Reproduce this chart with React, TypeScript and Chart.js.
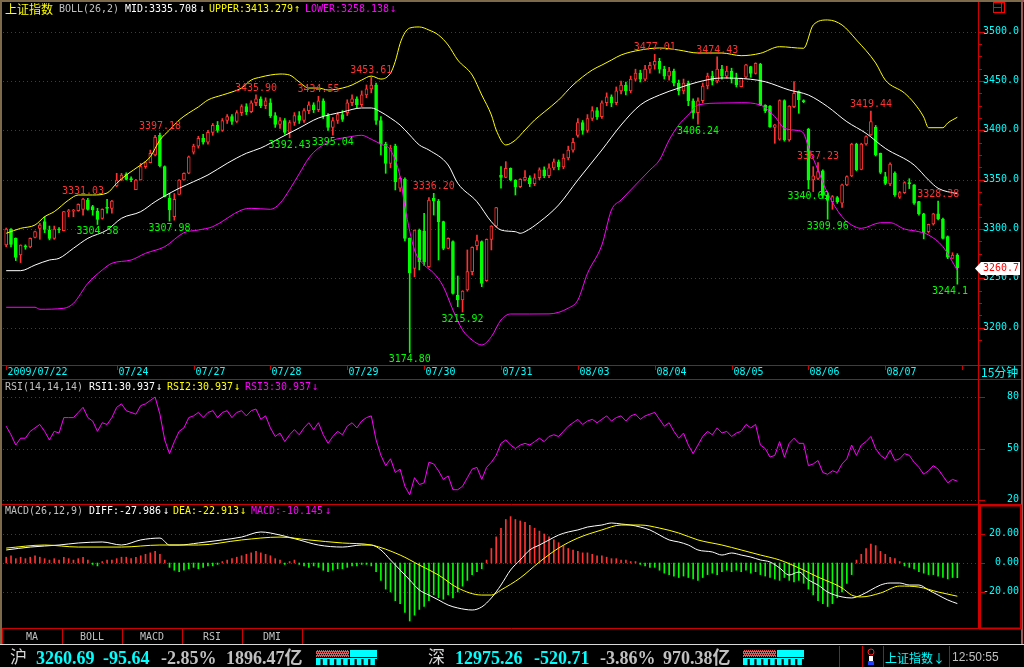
import React, { useEffect, useRef } from 'react';
import { Chart, registerables } from 'chart.js';

Chart.register(...registerables);

// ---------------- data ----------------
const dayLabels = ['2009/07/22', '07/24', '07/27', '07/28', '07/29', '07/30', '07/31', '08/03', '08/04', '08/05', '08/06', '08/07'];
const dayStarts = [0, 23, 39, 55, 71, 87, 103, 119, 135, 151, 167, 183];
const dayEnd = 199;

const opens = [
  3283.8, 3300, 3290.6, 3273.7, 3282.5, 3282, 3291.6, 3300.7, 3307.5, 3299,
  3290.6, 3300, 3298.4, 3317.6, 3318, 3318.6, 3320, 3329.4, 3322.7, 3318.3,
  3310.8, 3322, 3321, 3343.6, 3349.7, 3355.8, 3351, 3340, 3349.7, 3363.2,
  3367.3, 3375, 3395, 3363.2, 3331.1, 3312.5, 3335.2, 3349.7, 3356.5, 3378,
  3384, 3392, 3388, 3398, 3405, 3400, 3410, 3414, 3409, 3418,
  3424, 3419, 3428, 3432, 3425, 3428, 3415, 3406, 3410, 3398,
  3408, 3415, 3410, 3420, 3426, 3421, 3430, 3415, 3403, 3410,
  3416, 3418, 3428, 3432, 3426, 3436, 3442, 3446, 3410, 3386,
  3366.6, 3384, 3341.3, 3350.4, 3290.6, 3260.2, 3299, 3298, 3261.9, 3331,
  3328.4, 3307.5, 3280.4, 3287.2, 3233.1, 3228.1, 3238.2, 3256.8, 3283.1, 3287.2,
  3247.7, 3289.6, 3303, 3354.8, 3352.4, 3361.5, 3349.7, 3343, 3349.7, 3352,
  3346, 3352, 3360, 3354, 3362, 3368, 3363, 3372, 3380, 3395,
  3408, 3400, 3412, 3420, 3414, 3428, 3434, 3428, 3440, 3446,
  3440, 3452, 3458, 3452, 3462, 3466, 3470, 3462, 3455, 3460,
  3448, 3440, 3448, 3430, 3418, 3430, 3445, 3455, 3450, 3462,
  3455, 3460, 3452, 3444.3, 3453.8, 3464.6, 3457.8, 3467.3, 3425.7, 3424.7,
  3403.1, 3391, 3430.1, 3390.3, 3424, 3439.2, 3430.1, 3401.1, 3349.7, 3351.4,
  3358.9, 3334, 3327.8, 3331.8, 3326.1, 3344.7, 3353.8, 3386.2, 3360.5, 3386.2,
  3395.3, 3403.1, 3376.7, 3353.1, 3345.7, 3356.5, 3332.2, 3336.9, 3347, 3344.7,
  3327.8, 3315.3, 3297.4, 3305.1, 3315.3, 3310.2, 3292.3, 3270.3, 3273.7,
];
const highs = [
  3301, 3300.5, 3291, 3284, 3284, 3291, 3298, 3305.8, 3312.5, 3303,
  3303, 3301.5, 3318, 3320, 3320, 3325.5, 3331.03, 3331, 3324, 3321,
  3320.5, 3330, 3329, 3356.5, 3356.5, 3357, 3353, 3350.4, 3366.6, 3368.3,
  3380, 3395, 3397.18, 3364, 3336.2, 3336, 3350, 3357, 3374, 3386,
  3394, 3396, 3400, 3407, 3409, 3412, 3416, 3416, 3420, 3426,
  3427, 3430, 3435.9, 3434, 3433, 3432, 3418, 3413, 3412, 3410,
  3418, 3419, 3422, 3429, 3428, 3434.55, 3432, 3417, 3413, 3418,
  3420, 3431, 3436, 3434, 3440, 3446, 3453.61, 3448, 3414, 3388,
  3385, 3386, 3353, 3352, 3291, 3299, 3300, 3316, 3332, 3336.2,
  3330, 3308, 3291, 3288, 3252.4, 3237.5, 3278.8, 3282, 3294, 3288,
  3290, 3303.5, 3322, 3363.2, 3368.3, 3362, 3350, 3351, 3359.2, 3354,
  3356, 3362, 3363, 3366, 3371, 3370, 3376, 3384, 3392, 3412,
  3410, 3416, 3424, 3423, 3430, 3438, 3436, 3444, 3450, 3449,
  3455, 3462, 3461, 3466, 3469, 3477.01, 3473, 3465, 3464, 3462,
  3451, 3452, 3450, 3432, 3433, 3448, 3458, 3460, 3474.43, 3466,
  3465, 3463, 3458, 3453, 3467, 3465, 3468.5, 3468, 3426, 3425,
  3406, 3431, 3431, 3425, 3449.4, 3440, 3431, 3402, 3363.2, 3367.23,
  3360, 3336, 3334, 3333, 3345.5, 3354, 3387, 3387, 3387, 3394.5,
  3419.44, 3405, 3377, 3357.5, 3367, 3358, 3338, 3348, 3351, 3345,
  3328, 3316, 3305, 3316, 3328.38, 3311, 3293, 3276, 3275,
];
const lows = [
  3282, 3282, 3268, 3266, 3279.5, 3281, 3291, 3289.6, 3296.3, 3289,
  3289.6, 3296.3, 3298, 3312.5, 3312.5, 3318, 3314, 3319, 3314, 3304.58,
  3310, 3316, 3316, 3343, 3349, 3349.7, 3348, 3340, 3349.7, 3361.5,
  3367, 3374, 3363, 3332.5, 3307.98, 3309, 3335, 3349.5, 3356, 3376,
  3382, 3386, 3386, 3395, 3398, 3399, 3407, 3406, 3408, 3415,
  3416, 3418, 3425, 3423, 3422, 3413, 3403, 3402, 3396, 3392.43,
  3405, 3407, 3408, 3417, 3418, 3419, 3412, 3400, 3395.04, 3407,
  3409, 3415, 3425, 3423, 3424, 3433, 3438, 3406, 3375, 3356.5,
  3362, 3339.6, 3338, 3288, 3174.8, 3251.7, 3258.5, 3263, 3261, 3314.2,
  3268.6, 3279, 3280, 3234, 3221.3, 3215.92, 3237, 3253.4, 3278.8, 3241.6,
  3247, 3278.8, 3302, 3341.3, 3352, 3349, 3334.5, 3342, 3349, 3343,
  3344, 3350, 3352, 3352, 3360, 3360, 3361, 3370, 3378, 3393,
  3396, 3398, 3410, 3411, 3412, 3425, 3424, 3426, 3437, 3436,
  3438, 3450, 3449, 3450, 3458, 3462, 3458, 3452, 3451, 3445,
  3436, 3437, 3425, 3412, 3406.24, 3428, 3442, 3446, 3448, 3452,
  3453, 3448, 3444, 3444, 3453, 3453.8, 3457, 3425, 3418, 3403,
  3386.9, 3390, 3389, 3389, 3423, 3417.3, 3428, 3340.69, 3337.9, 3350,
  3331, 3309.96, 3320, 3326, 3322, 3344, 3353, 3359, 3360, 3385,
  3395, 3374, 3356, 3345, 3344, 3333, 3331, 3336, 3341, 3325,
  3314, 3290, 3296, 3304, 3309.2, 3290, 3270, 3270.3, 3244.1,
];
const closes = [
  3300, 3284.5, 3271.3, 3283.8, 3282, 3290.6, 3297.3, 3304.1, 3299.7, 3290.6,
  3300, 3299, 3317.6, 3318.3, 3318.6, 3325, 3330.4, 3320, 3319.3, 3309.8,
  3320, 3321, 3328.4, 3349.7, 3354.8, 3350.4, 3350, 3349.7, 3363.2, 3367.3,
  3376.7, 3393, 3364.2, 3332.8, 3319.3, 3330, 3349.7, 3356.5, 3373.3, 3384,
  3392, 3388, 3398, 3405, 3400, 3410, 3414, 3409, 3418, 3424,
  3419, 3428, 3432, 3425, 3430, 3415, 3406, 3410, 3398, 3408,
  3415, 3410, 3420, 3426, 3421, 3430, 3415, 3403, 3410, 3416,
  3411, 3428, 3432, 3426, 3436, 3442, 3446, 3410, 3386, 3366.6,
  3382, 3348, 3351.4, 3290.6, 3255.8, 3299, 3267, 3267, 3329.4, 3328.4,
  3307.5, 3280.4, 3290.6, 3234.8, 3228.1, 3237.2, 3256.8, 3281.5, 3288.2, 3245,
  3289.6, 3303, 3321.7, 3352.4, 3361.5, 3349.7, 3343, 3350.4, 3352.4, 3346,
  3352, 3360, 3354, 3362, 3368, 3363, 3372, 3380, 3388, 3408,
  3400, 3412, 3420, 3414, 3428, 3434, 3428, 3440, 3446, 3440,
  3452, 3458, 3452, 3462, 3466, 3470, 3462, 3455, 3460, 3448,
  3440, 3448, 3430, 3418, 3430, 3445, 3455, 3450, 3462, 3455,
  3460, 3452, 3446, 3452.8, 3466.3, 3457.8, 3467.9, 3425.7, 3420, 3403.8,
  3405.5, 3430.1, 3390.3, 3424.7, 3437.6, 3430.8, 3429.1, 3349.7, 3353.8, 3358.2,
  3334, 3329, 3332.8, 3327.8, 3344.7, 3353.1, 3386.2, 3359.9, 3386.2, 3393.6,
  3408.8, 3375, 3357.5, 3346.3, 3365.9, 3334.5, 3336.9, 3347, 3346, 3326.1,
  3315.3, 3296.4, 3304.8, 3315.3, 3310.2, 3290.6, 3271.4, 3273.7, 3260.7,
];

const bollUpperBars = [0, 3, 6, 8, 10, 13, 15, 18, 21, 23, 25, 28, 30, 32, 34, 36, 38, 40, 42, 45, 47, 49, 51, 53, 55, 57, 59, 61, 63, 65, 67, 70, 72, 74, 76, 78, 80, 81, 82, 83, 84, 86, 88, 90, 92, 94, 97, 99, 101, 102, 104, 106, 108, 110, 112, 115, 118, 122, 124, 126, 128, 132, 136, 140, 144, 149, 153, 157, 161, 166, 168, 171, 174, 177, 181, 183, 187, 189, 191, 192, 195, 196, 198];
const bollUpper = [3295.7, 3300.7, 3304.1, 3312.5, 3317.6, 3329.4, 3334.5, 3334.5, 3336.5, 3346.4, 3354.8, 3364.9, 3373.3, 3390.2, 3400.4, 3410.5, 3417.6, 3423.7, 3430.8, 3435.8, 3438.9, 3442.9, 3451, 3454, 3456.1, 3457.1, 3456.1, 3449, 3442.9, 3442.9, 3440.9, 3442.9, 3446, 3451, 3455, 3452, 3458, 3470, 3488, 3499, 3503.7, 3504.8, 3501.7, 3496.6, 3486.5, 3471.3, 3456.1, 3435.8, 3415.6, 3400.4, 3385.2, 3390.2, 3400.4, 3410.5, 3418.6, 3430.8, 3446, 3461.2, 3466.2, 3471.3, 3476.4, 3481.4, 3483.5, 3481.4, 3478.4, 3478.4, 3475.7, 3478.1, 3484.8, 3483.2, 3506.8, 3511.9, 3506.8, 3491.6, 3468.3, 3451, 3437.8, 3427.7, 3413.5, 3402.7, 3402.7, 3407.5, 3413.3];

const bollMidBars = [0, 3, 6, 9, 11, 14, 17, 21, 24, 28, 31, 33, 36, 39, 42, 46, 50, 53, 57, 61, 65, 70, 74, 76, 78, 80, 82, 84, 86, 88, 92, 94, 98, 101, 103, 106, 107, 108, 111, 115, 119, 124, 128, 132, 136, 140, 144, 149, 155, 158, 163, 167, 171, 175, 179, 183, 189, 192, 194, 198];
const bollMid = [3257.8, 3257.8, 3263.5, 3268.6, 3270.3, 3280.5, 3290.6, 3299, 3310.9, 3317.6, 3327.7, 3333.5, 3341.3, 3348, 3354.8, 3366.6, 3376.8, 3382.1, 3392.3, 3402.4, 3412.5, 3418.6, 3422.7, 3422.7, 3418.6, 3412.5, 3405.4, 3395.3, 3385.2, 3380.1, 3364.9, 3346.4, 3327.7, 3307.4, 3299, 3297.3, 3295.7, 3297.3, 3307.1, 3324.4, 3349.7, 3380.1, 3405.4, 3425.7, 3435.8, 3442.9, 3449, 3453.1, 3451.8, 3449.3, 3440.9, 3435.8, 3424, 3408.8, 3397, 3381.8, 3364.9, 3349.7, 3341.3, 3335.7];

const bollLowerBars = [0, 6, 7, 12, 14, 17, 20, 22, 26, 29, 33, 37, 40, 43, 49, 51, 55, 57, 59, 61, 63, 65, 68, 71, 74, 76, 78, 80, 82, 83, 85, 87, 89, 91, 93, 95, 97, 99, 101, 103, 105, 109, 113, 117, 119, 121, 124, 126, 128, 130, 132, 134, 136, 138, 140, 142, 144, 149, 153, 157, 160, 162, 165, 166, 167, 169, 171, 174, 176, 178, 182, 184, 187, 190, 192, 195, 198];
const bollLower = [3220.7, 3220.7, 3218.7, 3219.7, 3224.7, 3245, 3258.5, 3265.3, 3268.6, 3275.4, 3282.1, 3296.3, 3299, 3302.4, 3319.3, 3321, 3320, 3326, 3340, 3356, 3372, 3382, 3390, 3393, 3395, 3391, 3386, 3380, 3353, 3322.6, 3278.8, 3263.6, 3255.4, 3241.6, 3217.9, 3197.7, 3187.5, 3182.5, 3190.9, 3207.8, 3213.9, 3213.9, 3214, 3219.8, 3228, 3255, 3283.8, 3319.3, 3329.4, 3339.6, 3349.7, 3359.8, 3369.9, 3390.2, 3405.4, 3415.6, 3425.7, 3427.7, 3428, 3425.7, 3413.9, 3402.1, 3399.7, 3397, 3383.4, 3359.8, 3336.2, 3312.5, 3304.1, 3300.7, 3306.4, 3306.4, 3300, 3297.3, 3294, 3282.1, 3258.1];

const rsiValues = [
  63, 58, 52, 56, 56, 60, 62, 64, 60, 55, 60, 59, 68, 68, 68, 71, 74, 68, 66, 60,
  65, 64, 68, 74, 76, 72, 71, 70, 75, 76, 78, 80, 70, 55, 47, 54, 60, 62, 68, 69,
  71, 68, 71, 72, 68, 71, 72, 68, 71, 72, 69, 72, 73, 67, 69, 62, 57, 59, 54, 58,
  61, 58, 62, 65, 61, 65, 58, 53, 57, 60, 58, 63, 65, 62, 66, 68, 69, 55, 46, 40,
  44, 36, 38, 28, 23, 33, 29, 30, 42, 41, 37, 32, 34, 26, 26, 28, 33, 38, 39, 32,
  39, 42, 46, 53, 55, 52, 50, 52, 53, 52, 54, 56, 54, 57, 58, 57, 60, 63, 65, 67,
  64, 66, 67, 65, 67, 69, 66, 68, 69, 66, 69, 70, 67, 69, 70, 71, 67, 63, 65, 60,
  56, 59, 52, 47, 52, 57, 60, 58, 62, 59, 60, 57, 59, 60, 64, 62, 64, 52, 50, 45,
  46, 54, 45, 53, 56, 53, 53, 40, 41, 43, 36, 35, 37, 36, 41, 44, 52, 46, 52, 54,
  57, 50, 46, 44, 49, 43, 44, 47, 46, 42, 39, 35, 37, 40, 38, 34, 30, 32, 30.937,
];

const diffBars = [0, 5, 11, 15, 20, 24, 28, 32, 34, 36, 40, 45, 49, 53, 57, 61, 65, 70, 74, 76, 78, 80, 82, 84, 86, 88, 90, 92, 94, 97, 99, 101, 103, 105, 107, 109, 111, 113, 115, 117, 119, 121, 124, 126, 128, 130, 132, 134, 136, 138, 140, 142, 144, 147, 149, 151, 153, 155, 157, 159, 161, 163, 165, 167, 169, 171, 174, 176, 178, 180, 182, 184, 186, 188, 190, 192, 194, 196, 198];
const diffValues = [9, 11, 12.4, 13.8, 14.5, 12.4, 15.9, 17.2, 12.4, 12.4, 13.8, 15.9, 17.9, 21.4, 19.3, 15.9, 12.4, 11, 12.4, 12.4, 9, 2.1, -4.8, -11.7, -18.6, -22.1, -25.5, -29, -31, -32.4, -30.3, -24.1, -15.2, -4.8, 2.1, 9, 12.4, 15.9, 19.3, 21.4, 22.8, 24.8, 26.2, 27.6, 26.9, 26.2, 24.8, 22.8, 19.3, 15.9, 14.5, 12.4, 9, 7.6, 5.5, 6.9, 5.5, 4.1, 2.1, 0.7, -3.4, -8.3, -6.2, -11.7, -15.2, -20, -23.4, -24.1, -22.1, -18.6, -15.2, -13.8, -13.8, -15.2, -15.2, -18.6, -22.1, -25.5, -27.986];

const deaBars = [0, 8, 15, 24, 32, 40, 49, 57, 63, 70, 76, 82, 86, 90, 94, 99, 101, 103, 107, 111, 115, 119, 124, 128, 132, 136, 140, 144, 149, 153, 157, 161, 165, 169, 174, 176, 178, 182, 186, 190, 194, 198];
const deaValues = [10.3, 12.4, 11, 11, 12.4, 12.4, 15.9, 17.9, 15.9, 13.8, 12.4, 5.5, -1.4, -8.3, -17.2, -22.1, -22.1, -18.6, -10.3, 0.7, 10.3, 17.2, 22.8, 26.2, 26.2, 24.1, 20.7, 15.9, 12.4, 9, 5.5, 2.1, -3.4, -9.7, -17.2, -22.1, -23.4, -20.7, -15.9, -16.6, -20, -22.913];

const macdHist = [
  4, 5, 3, 4, 3, 4, 5, 4, 3, 2, 3,
  2, 4, 3, 2, 3, 4, 2, -1, -2, 1, 2, 2,
  3, 4, 4, 3, 4, 5, 6, 7, 8, 6, 2,
  -3, -5, -6, -5, -4, -3, -4, -3, -2, -2, -1, 1,
  2, 3, 4, 5, 6, 7, 8, 7, 6, 5, 3, 2, -1, 1, 2,
  -1, -2, -3, -2, -3, -5, -6, -5, -4, -4, -3, -2, -2, -1, -1, -2, -6,
  -12, -18, -20, -26, -28, -34, -40, -36, -32, -30, -26, -22, -24, -25, -22, -24, -20, -16, -12, -8, -6, -4, 2,
  10, 18, 24, 30, 32, 30, 29, 28, 26, 24, 22, 20, 18, 16, 14, 12, 10, 9,
  8, 7, 7, 6, 5, 5, 4, 3, 3, 2, 2, 1, 1, -1, -2, -3, -3,
  -5, -7, -8, -9, -10, -9, -10, -11, -12, -10, -8, -7, -8, -6, -5, -6, -5, -6, -5, -7, -6, -8, -9, -10, -11, -12, -10, -12, -13, -12,
  -14, -18, -22, -26, -28, -30, -28, -24, -20, -14, -8,
  2, 6, 10, 13, 12, 8, 6, 4, 3, 1,
  -2, -3, -4, -6, -7, -8, -8, -9, -10, -11, -10, -10.145,
];

const priceTicks = [3200, 3250, 3300, 3350, 3400, 3450, 3500];
const priceMinorStep = 12.5;
const rsiTicks = [20, 50, 80];
const macdTicks = [-20, 0, 20];

const markBars = [16, 19, 32, 34, 52, 59, 65, 68, 76, 84, 89, 95, 135, 144, 148, 167, 169, 171, 180, 194, 198];
const markValues = [3331.03, 3304.58, 3397.18, 3307.98, 3435.9, 3392.43, 3434.55, 3395.04, 3453.61, 3174.8, 3336.2, 3215.92, 3477.01, 3406.24, 3474.43, 3340.69, 3367.23, 3309.96, 3419.44, 3328.38, 3244.1];
const markLabels = ['3331.03', '3304.58', '3397.18', '3307.98', '3435.90', '3392.43', '3434.55', '3395.04', '3453.61', '3174.80', '3336.20', '3215.92', '3477.01', '3406.24', '3474.43', '3340.69', '3367.23', '3309.96', '3419.44', '3328.38', '3244.1'];
const markIsHigh = [true, false, true, false, true, false, true, false, true, false, true, false, true, false, true, false, true, false, true, true, false];

const tabNames = ['MA', 'BOLL', 'MACD', 'RSI', 'DMI'];

// ---------------- styling ----------------
const RED = '#FF3232';
const GREEN = '#00FF00';
const CYAN = '#00FFFF';
const YELLOW = '#FFFF00';
const MAGENTA = '#FF00FF';
const GRAY = '#C0C0C0';
const FR = '#D00000';
const MONO = "11px 'DejaVu Sans Mono', monospace";
const MONO_SX = 6 / 6.62;
const CJK = "'Noto Sans CJK SC', sans-serif";

const X_MIN = -0.458, X_MAX = 202.3;
const P_MIN = 2856.12, P_MAX = 3532.13;
const R_MIN = -77.28, R_MAX = 311.26;
const M_MIN = -71.72, M_MAX = 388.28;

function txt(ctx: CanvasRenderingContext2D, s: string, x: number, y: number, color: string, font: string, align: CanvasTextAlign = 'left', baseline: CanvasTextBaseline = 'middle', maxW?: number) {
  ctx.save();
  ctx.font = font;
  ctx.fillStyle = color;
  ctx.textAlign = align;
  ctx.textBaseline = baseline;
  if (font === MONO) {
    ctx.translate(x, y);
    ctx.scale(MONO_SX, 1);
    ctx.fillText(s, 0, 0);
  } else if (maxW) {
    ctx.fillText(s, x, y, maxW);
  } else {
    ctx.fillText(s, x, y);
  }
  ctx.restore();
}

function seg(ctx: CanvasRenderingContext2D, x1: number, y1: number, x2: number, y2: number) {
  ctx.beginPath();
  ctx.moveTo(x1, y1);
  ctx.lineTo(x2, y2);
  ctx.stroke();
}

function meter(ctx: CanvasRenderingContext2D, x0: number) {
  ctx.fillStyle = '#F05050';
  ctx.fillRect(x0, 650, 33, 7);
  ctx.fillStyle = '#000';
  for (let i = 0; i < 33; i += 2) for (let j = 0; j < 7; j += 2) ctx.fillRect(x0 + i + (j % 4 === 0 ? 0 : 1), 650 + j, 1, 1);
  ctx.fillStyle = CYAN;
  ctx.fillRect(x0 + 34, 650, 27, 7);
  ctx.fillRect(x0, 658, 61, 1);
  for (let k = 0; k < 9; k++) ctx.fillRect(x0 + k * 6.8, 659, 4.5, 6);
}

const chrome = {
  id: 'chrome',
  beforeDraw(chart: any) {
    const { ctx, width, height } = chart;
    ctx.save();
    ctx.fillStyle = '#000';
    ctx.fillRect(0, 0, width, height);
    ctx.restore();
  },
  beforeDatasetsDraw(chart: any) {
    const { ctx, scales } = chart;
    ctx.save();
    ctx.strokeStyle = FR;
    ctx.lineWidth = 1;
    ctx.setLineDash([1, 3]);
    const h = (y: number) => { const yy = Math.round(y) + 0.5; seg(ctx, 3, yy, 978, yy); };
    priceTicks.forEach((v) => h(scales.yP.getPixelForValue(v)));
    rsiTicks.forEach((v) => h(scales.yR.getPixelForValue(v)));
    macdTicks.forEach((v) => h(scales.yM.getPixelForValue(v)));
    ctx.restore();
  },
  afterDatasetsDraw(chart: any) {
    const { ctx, scales } = chart;
    const xs = scales.x, yp = scales.yP, yr = scales.yR, ym = scales.yM;
    ctx.save();
    ctx.setLineDash([]);

    // outer borders
    ctx.fillStyle = '#7D6A4A';
    ctx.fillRect(0, 0, 1024, 2);
    ctx.fillRect(0, 0, 2, 644);
    ctx.fillStyle = '#9A5A5A';
    ctx.fillRect(1021, 0, 2, 644);

    // frame lines
    ctx.strokeStyle = FR;
    ctx.lineWidth = 1;
    seg(ctx, 978.5, 2, 978.5, 629);
    seg(ctx, 2, 365.5, 1021, 365.5);
    seg(ctx, 2, 379.5, 1021, 379.5);
    seg(ctx, 2, 504.5, 1021, 504.5);
    seg(ctx, 2, 628.5, 1021, 628.5);
    ctx.lineWidth = 2;
    ctx.strokeRect(980, 505.5, 41, 123);
    ctx.lineWidth = 1;

    // window icon top right
    ctx.strokeStyle = '#FF0000';
    ctx.strokeRect(993.5, 2.5, 11, 10);
    seg(ctx, 993.5, 7.5, 1001, 7.5);
    seg(ctx, 1001.5, 2.5, 1001.5, 12.5);
    ctx.strokeStyle = FR;

    // price axis
    for (let v = priceTicks[0] - priceMinorStep; v <= priceTicks[priceTicks.length - 1] + 2 * priceMinorStep; v += priceMinorStep) {
      const y = Math.round(yp.getPixelForValue(v)) + 0.5;
      if (y < 20 || y > 362) continue;
      const major = priceTicks.includes(v);
      seg(ctx, 979, y, major ? 985 : 982, y);
      if (major) txt(ctx, v.toFixed(1), 1019, y - 1, CYAN, MONO, 'right');
    }
    rsiTicks.forEach((v) => {
      const y = Math.round(yr.getPixelForValue(v)) + 0.5;
      seg(ctx, 979, y, 985, y);
      txt(ctx, String(v), 1019, y - 1, CYAN, MONO, 'right');
    });
    macdTicks.forEach((v) => {
      const y = Math.round(ym.getPixelForValue(v)) + 0.5;
      seg(ctx, 979, y, 985, y);
      txt(ctx, v.toFixed(2), 1019, y - 1, CYAN, MONO, 'right');
    });

    // date axis
    dayStarts.forEach((b, k) => {
      const x = Math.round(xs.getPixelForValue(b)) + 0.5;
      seg(ctx, x, 366, x, 370);
      txt(ctx, dayLabels[k], x + 1, 372.5, CYAN, MONO);
    });
    {
      const x = Math.round(xs.getPixelForValue(dayEnd)) + 0.5;
      seg(ctx, x, 366, x, 370);
    }
    txt(ctx, '15分钟', 981, 372.5, CYAN, `12px ${CJK}`);

    // high / low marks
    markBars.forEach((b, k) => {
      const w = markLabels[k].length * 6;
      const cx = xs.getPixelForValue(b);
      const left = Math.min(cx - w / 2, 968 - w);
      const y = yp.getPixelForValue(markValues[k]) + (markIsHigh[k] ? -7 : 7);
      txt(ctx, markLabels[k], left, y, markIsHigh[k] ? RED : GREEN, MONO);
    });

    // last price tag
    const last = closes[closes.length - 1];
    const yc = Math.round(yp.getPixelForValue(last)) + 0.5;
    ctx.fillStyle = '#FFFFFF';
    ctx.beginPath();
    ctx.moveTo(975, yc);
    ctx.lineTo(981, yc - 6.5);
    ctx.lineTo(1020, yc - 6.5);
    ctx.lineTo(1020, yc + 6.5);
    ctx.lineTo(981, yc + 6.5);
    ctx.closePath();
    ctx.fill();
    txt(ctx, last.toFixed(1), 1019, yc, '#FF0000', MONO, 'right');

    // main header
    txt(ctx, '上证指数', 5, 9.5, YELLOW, `12px ${CJK}`);
    txt(ctx, 'BOLL(26,2)', 59, 9.5, GRAY, MONO);
    txt(ctx, 'MID:3335.708', 125, 9.5, '#FFFFFF', MONO);
    txt(ctx, '↓', 199, 9.5, '#FFFFFF', MONO);
    txt(ctx, 'UPPER:3413.279', 209, 9.5, YELLOW, MONO);
    txt(ctx, '↑', 294, 9.5, YELLOW, MONO);
    txt(ctx, 'LOWER:3258.138', 305, 9.5, MAGENTA, MONO);
    txt(ctx, '↓', 390, 9.5, MAGENTA, MONO);

    // RSI header
    txt(ctx, 'RSI(14,14,14)', 5, 387, GRAY, MONO);
    txt(ctx, 'RSI1:30.937', 89, 387, '#FFFFFF', MONO);
    txt(ctx, '↓', 156, 387, '#FFFFFF', MONO);
    txt(ctx, 'RSI2:30.937', 167, 387, YELLOW, MONO);
    txt(ctx, '↓', 234, 387, YELLOW, MONO);
    txt(ctx, 'RSI3:30.937', 245, 387, MAGENTA, MONO);
    txt(ctx, '↓', 312, 387, MAGENTA, MONO);

    // MACD header
    txt(ctx, 'MACD(26,12,9)', 5, 511.5, GRAY, MONO);
    txt(ctx, 'DIFF:-27.986', 89, 511.5, '#FFFFFF', MONO);
    txt(ctx, '↓', 163, 511.5, '#FFFFFF', MONO);
    txt(ctx, 'DEA:-22.913', 173, 511.5, YELLOW, MONO);
    txt(ctx, '↓', 240, 511.5, YELLOW, MONO);
    txt(ctx, 'MACD:-10.145', 251, 511.5, MAGENTA, MONO);
    txt(ctx, '↓', 325, 511.5, MAGENTA, MONO);

    // tabs
    ctx.strokeStyle = FR;
    seg(ctx, 2.5, 629, 2.5, 644);
    tabNames.forEach((s, k) => {
      txt(ctx, s, 32 + 60 * k, 637, GRAY, MONO, 'center');
      seg(ctx, 62.5 + 60 * k, 629, 62.5 + 60 * k, 644);
    });

    // status bar
    ctx.strokeStyle = '#D8D8D8';
    seg(ctx, 0, 644.5, 1024, 644.5);
    const SB = "bold 18px 'Liberation Serif', 'Noto Sans CJK SC', serif";
    txt(ctx, '沪', 10, 657, '#D8D8D8', `17px ${CJK}`);
    txt(ctx, '3260.69', 36, 664, CYAN, SB, 'left', 'alphabetic', 63);
    txt(ctx, '-95.64', 103, 664, CYAN, SB, 'left', 'alphabetic', 52);
    txt(ctx, '-2.85%', 161, 664, GRAY, SB, 'left', 'alphabetic', 59);
    txt(ctx, '1896.47亿', 226, 664, GRAY, SB, 'left', 'alphabetic', 82);
    meter(ctx, 316);
    txt(ctx, '深', 428, 657, '#D8D8D8', `17px ${CJK}`);
    txt(ctx, '12975.26', 455, 664, CYAN, SB, 'left', 'alphabetic', 72);
    txt(ctx, '-520.71', 534, 664, CYAN, SB, 'left', 'alphabetic', 59);
    txt(ctx, '-3.86%', 600, 664, GRAY, SB, 'left', 'alphabetic', 57);
    txt(ctx, '970.38亿', 663, 664, GRAY, SB, 'left', 'alphabetic', 75);
    meter(ctx, 743);
    ctx.strokeStyle = FR;
    [839.5, 862.5, 883.5, 949.5].forEach((x) => seg(ctx, x, 646, x, 667));
    // signal icon
    ctx.strokeStyle = '#FF2020';
    ctx.beginPath();
    ctx.arc(871, 652, 3, 0, Math.PI * 2);
    ctx.stroke();
    ctx.fillStyle = '#FFFFFF';
    ctx.fillRect(869, 656, 4, 5);
    ctx.fillStyle = '#2040FF';
    ctx.fillRect(868, 661, 6, 4);
    txt(ctx, '上证指数↓', 885, 658, CYAN, `12px ${CJK}`);
    txt(ctx, '12:50:55', 952, 658, GRAY, "12px 'Liberation Sans', sans-serif");

    ctx.restore();
  },
};

const pts = (bars: number[], vals: number[]) => bars.map((b, i) => ({ x: b, y: vals[i] }));

export default function App() {
  const ref = useRef<HTMLCanvasElement | null>(null);

  useEffect(() => {
    document.body.style.margin = '0';
    document.body.style.background = '#000';
    const canvas = ref.current;
    if (!canvas) return;

    const up = closes.map((c, i) => c >= opens[i]);
    const bodyData = opens.map((o, i) => ({ x: i, y: [Math.min(o, closes[i]), Math.max(o, closes[i])] }));
    const wickData = highs.map((h, i) => ({ x: i, y: [lows[i], h] }));
    const histData = macdHist.map((v, i) => ({ x: i, y: [0, v] }));
    const rsiData = rsiValues.map((v, i) => ({ x: i, y: v }));

    const lineBase = { type: 'line', pointRadius: 0, borderWidth: 1, fill: false, xAxisID: 'x' } as any;

    const chart = new Chart(canvas, {
      type: 'bar',
      data: {
        datasets: [
          { ...lineBase, label: 'LOWER', data: pts(bollLowerBars, bollLower), borderColor: MAGENTA, yAxisID: 'yP', cubicInterpolationMode: 'monotone', order: -3 },
          { ...lineBase, label: 'UPPER', data: pts(bollUpperBars, bollUpper), borderColor: YELLOW, yAxisID: 'yP', cubicInterpolationMode: 'monotone', order: -2 },
          { ...lineBase, label: 'MID', data: pts(bollMidBars, bollMid), borderColor: '#FFFFFF', yAxisID: 'yP', cubicInterpolationMode: 'monotone', order: -1 },
          { ...lineBase, label: 'RSI', data: rsiData, borderColor: MAGENTA, yAxisID: 'yR', tension: 0, order: -1 },
          { ...lineBase, label: 'DEA', data: pts(deaBars, deaValues), borderColor: YELLOW, yAxisID: 'yM', cubicInterpolationMode: 'monotone', order: -2 },
          { ...lineBase, label: 'DIFF', data: pts(diffBars, diffValues), borderColor: '#FFFFFF', yAxisID: 'yM', cubicInterpolationMode: 'monotone', order: -1 },
          {
            type: 'bar', label: 'body', data: bodyData as any, xAxisID: 'x', yAxisID: 'yP',
            backgroundColor: up.map((u) => (u ? '#000000' : GREEN)),
            borderColor: up.map((u) => (u ? RED : GREEN)),
            borderWidth: 1, borderSkipped: false, barThickness: 3, minBarLength: 1, grouped: false, order: 1,
          },
          {
            type: 'bar', label: 'wick', data: wickData as any, xAxisID: 'x', yAxisID: 'yP',
            backgroundColor: up.map((u) => (u ? RED : GREEN)),
            borderWidth: 0, barThickness: 1, grouped: false, order: 2,
          },
          {
            type: 'bar', label: 'MACD', data: histData as any, xAxisID: 'x', yAxisID: 'yM',
            backgroundColor: macdHist.map((v) => (v >= 0 ? RED : GREEN)),
            borderWidth: 0, barThickness: 1, grouped: false, order: 2,
          },
        ] as any,
      },
      options: {
        responsive: false,
        maintainAspectRatio: false,
        devicePixelRatio: 1,
        animation: false,
        events: [],
        layout: { padding: { left: 4, right: 46, top: 0, bottom: 0 } },
        plugins: { legend: { display: false }, tooltip: { enabled: false } },
        scales: {
          x: { type: 'linear', min: X_MIN, max: X_MAX, offset: false, bounds: 'data', display: false, grid: { offset: false } },
          yP: { type: 'linear', min: P_MIN, max: P_MAX, bounds: 'data', display: false },
          yR: { type: 'linear', min: R_MIN, max: R_MAX, bounds: 'data', display: false },
          yM: { type: 'linear', min: M_MIN, max: M_MAX, bounds: 'data', display: false },
        },
      } as any,
      plugins: [chrome],
    });
    return () => chart.destroy();
  }, []);

  return (
    <div style={{ position: 'absolute', left: 0, top: 0, width: 1024, height: 667, background: '#000' }}>
      <canvas ref={ref} width={1024} height={667} style={{ display: 'block', width: 1024, height: 667 }} />
    </div>
  );
}
